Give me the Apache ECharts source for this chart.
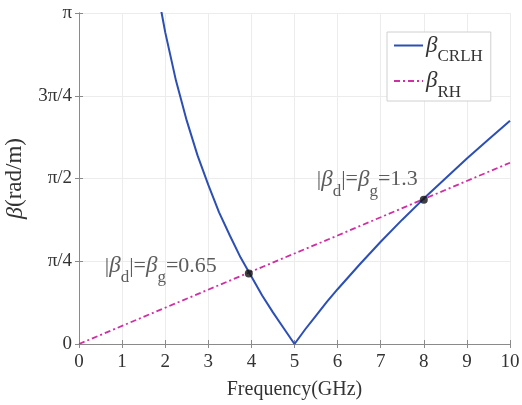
<!DOCTYPE html>
<html>
<head>
<meta charset="utf-8">
<script src="https://cdn.jsdelivr.net/npm/echarts@6/dist/echarts.min.js"></script>
<style>html,body{margin:0;padding:0;background:#fff;}#c{width:522px;height:405px;}</style>
</head>
<body>
<div id="c"></div>
<script>
// Data (beta in rad/m)
var crlhFreq = [1.9, 1.95, 2.0, 2.25, 2.5, 2.75, 3.0, 3.25, 3.5, 3.75, 4.0, 4.25, 4.5, 4.75, 5.0, 5.25, 5.5, 5.75, 6.0, 6.5, 7.0, 7.5, 8.0, 8.5, 9.0, 9.5, 10];
var crlhBeta = [3.18, 3.07, 2.96, 2.50, 2.12, 1.79, 1.51, 1.25, 1.03, 0.82, 0.64, 0.46, 0.30, 0.15, 0, 0.14, 0.27, 0.40, 0.52, 0.75, 0.97, 1.18, 1.38, 1.57, 1.76, 1.94, 2.12];
var rhFreq = [0, 2, 4, 6, 8, 10];
var rhBeta = [0, 0.344, 0.688, 1.03, 1.376, 1.72];
var crossFreq = [3.94, 8.0];
var crossBeta = [0.67, 1.37];
var crossText = ['0.65', '1.3'];
var yTickLabels = ['0', 'π/4', 'π/2', '3π/4', 'π'];

var Q = Math.PI / 4; // y axis unit (π/4 rad/m)
function pairs(xs, ys) { return xs.map(function (x, i) { return [x, ys[i] / Q]; }); }

var serif = 'Liberation Serif';
var chart = echarts.init(document.getElementById('c'));
var richAnn = {
  n: {fontFamily: serif, fontSize: 22, color: '#333', lineHeight: 22, verticalAlign: 'middle'},
  b: {fontFamily: serif, fontSize: 23, fontStyle: 'italic', color: '#333', lineHeight: 22, verticalAlign: 'middle'},
  s: {fontFamily: serif, fontSize: 17, color: '#333', lineHeight: 40, verticalAlign: 'bottom'}
};
var tickLabelStyle = {fontFamily: serif, fontSize: 19, color: '#333'};
var option = {
  animation: false,
  backgroundColor: '#fff',
  textStyle: {fontFamily: serif},
  grid: {left: 79, right: 12, top: 13, bottom: 61, show: false, containLabel: false, outerBoundsMode: 'none'},
  legend: {
    data: ['CRLH', 'RH'],
    left: 387, top: 32,
    orient: 'vertical',
    itemWidth: 29, itemHeight: 10, itemGap: 4,
    padding: [2, 8, 0, 6],
    borderColor: '#d0d0d0', borderWidth: 1, backgroundColor: '#fff',
    itemStyle: {opacity: 0},
    formatter: function (name) { return '{b|β}{s|' + name + '}'; },
    textStyle: {
      padding: [0, 0, 0, -2],
      rich: {
        b: {fontFamily: serif, fontSize: 23, fontStyle: 'italic', color: '#333', lineHeight: 22, verticalAlign: 'middle'},
        s: {fontFamily: serif, fontSize: 17, color: '#333', lineHeight: 40, verticalAlign: 'bottom'}
      }
    }
  },
  xAxis: [{
    type: 'value', min: 0, max: 10, interval: 1,
    name: 'Frequency(GHz)', nameLocation: 'middle', nameGap: 36,
    nameTextStyle: {fontFamily: serif, fontSize: 20, color: '#333'},
    axisLine: {show: true, lineStyle: {color: '#8a8a8a'}},
    axisTick: {show: true, inside: true, length: 4, lineStyle: {color: '#8a8a8a'}},
    axisLabel: {margin: 9, formatter: '{t|{value}}', rich: {t: tickLabelStyle}},
    splitLine: {show: true, lineStyle: {color: '#ececec'}}
  }, {
    type: 'value', min: 0, max: 10, interval: 1, position: 'top',
    axisLine: {show: true, lineStyle: {color: '#8a8a8a'}},
    axisTick: {show: true, inside: true, length: 4, lineStyle: {color: '#8a8a8a'}},
    axisLabel: {show: false}, splitLine: {show: false}
  }],
  yAxis: [{
    type: 'value', min: 0, max: 4, interval: 1,
    name: '{b|β}{n|(rad/m)}', nameLocation: 'middle', nameGap: 50,
    nameTextStyle: {rich: {
      b: {fontFamily: serif, fontSize: 24, fontStyle: 'italic', color: '#333'},
      n: {fontFamily: serif, fontSize: 23, color: '#333'}
    }},
    axisLine: {show: true, lineStyle: {color: '#8a8a8a'}},
    axisTick: {show: true, inside: true, length: 4, lineStyle: {color: '#8a8a8a'}},
    axisLabel: {margin: 7, rich: {t: tickLabelStyle},
      formatter: function (v) { return '{t|' + yTickLabels[Math.round(v)] + '}'; }},
    splitLine: {show: true, lineStyle: {color: '#ececec'}}
  }, {
    type: 'value', min: 0, max: 4, interval: 1, position: 'right',
    axisLine: {show: true, lineStyle: {color: '#8a8a8a'}},
    axisTick: {show: true, inside: true, length: 4, lineStyle: {color: '#8a8a8a'}},
    axisLabel: {show: false}, splitLine: {show: false}
  }],
  series: [{
    name: 'CRLH', type: 'line', data: pairs(crlhFreq, crlhBeta),
    showSymbol: false, symbol: 'none', clip: true,
    lineStyle: {color: '#2c4fb5', width: 2}, itemStyle: {color: '#2c4fb5'}, z: 3
  }, {
    name: 'RH', type: 'line', data: pairs(rhFreq, rhBeta),
    showSymbol: false, symbol: 'none',
    lineStyle: {color: '#cf2fa3', width: 1.8, type: [6, 3, 2, 3]}, itemStyle: {color: '#cf2fa3'}, z: 2
  }, {
    name: 'cross', type: 'scatter', symbolSize: 8, z: 5,
    itemStyle: {color: '#111'},
    data: crossFreq.map(function (f, i) {
      return {
        value: [f, crossBeta[i] / Q],
        label: {
          show: true, position: 'left',
          distance: i === 0 ? 28 : 2,
          offset: i === 0 ? [0, -7] : [0, -20],
          formatter: '{n||}{b|β}{s|d}{n||=}{b|β}{s|g}{n|=' + crossText[i] + '}',
          rich: richAnn
        }
      };
    })
  }]
};
chart.setOption(option);
</script>
</body>
</html>
